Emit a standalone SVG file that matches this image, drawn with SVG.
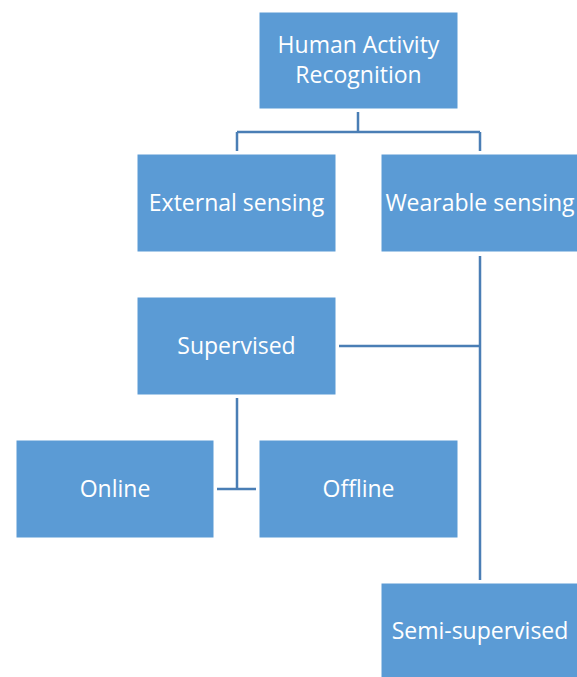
<svg xmlns="http://www.w3.org/2000/svg" width="577" height="677" viewBox="0 0 577 677">
  <style>
    .box { fill: #5B9BD5; stroke: #FFFFFF; stroke-width: 1; }
    .lbl { fill: #FFFFFF; font-family: "Open Sans", "Noto Sans", sans-serif; font-size: 23px; text-anchor: middle; }
    .wire { fill: none; stroke: #4A7EB5; stroke-width: 2.5; }
  </style>
  <rect width="577" height="677" fill="#FFFFFF"/>

  <!-- connectors -->
  <g id="connectors">
    <path class="wire" d="M358 112 V132 M237 132 H480 M237 132 V151 M480 132 V151"/>
    <path class="wire" d="M480 256 V580 M339 346 H480"/>
    <path class="wire" d="M237 398 V489 M217 489 H256"/>
  </g>

  <g id="har">
    <rect class="box" x="259" y="12" width="199" height="97"/>
    <text class="lbl" x="358.5" y="53">Human Activity</text>
    <text class="lbl" x="358.5" y="83">Recognition</text>
  </g>
  <g id="external">
    <rect class="box" x="137" y="154" width="199" height="98"/>
    <text class="lbl" x="236.5" y="211">External sensing</text>
  </g>
  <g id="wearable">
    <rect class="box" x="381" y="154" width="199" height="98"/>
    <text class="lbl" x="480" y="211">Wearable sensing</text>
  </g>
  <g id="supervised">
    <rect class="box" x="137" y="297" width="199" height="98"/>
    <text class="lbl" x="236.5" y="354">Supervised</text>
  </g>
  <g id="online">
    <rect class="box" x="16" y="440" width="198" height="98"/>
    <text class="lbl" x="115" y="497">Online</text>
  </g>
  <g id="offline">
    <rect class="box" x="259" y="440" width="199" height="98"/>
    <text class="lbl" x="358.5" y="497">Offline</text>
  </g>
  <g id="semi">
    <rect class="box" x="381" y="583" width="199" height="98"/>
    <text class="lbl" x="480" y="639">Semi-supervised</text>
  </g>
</svg>
